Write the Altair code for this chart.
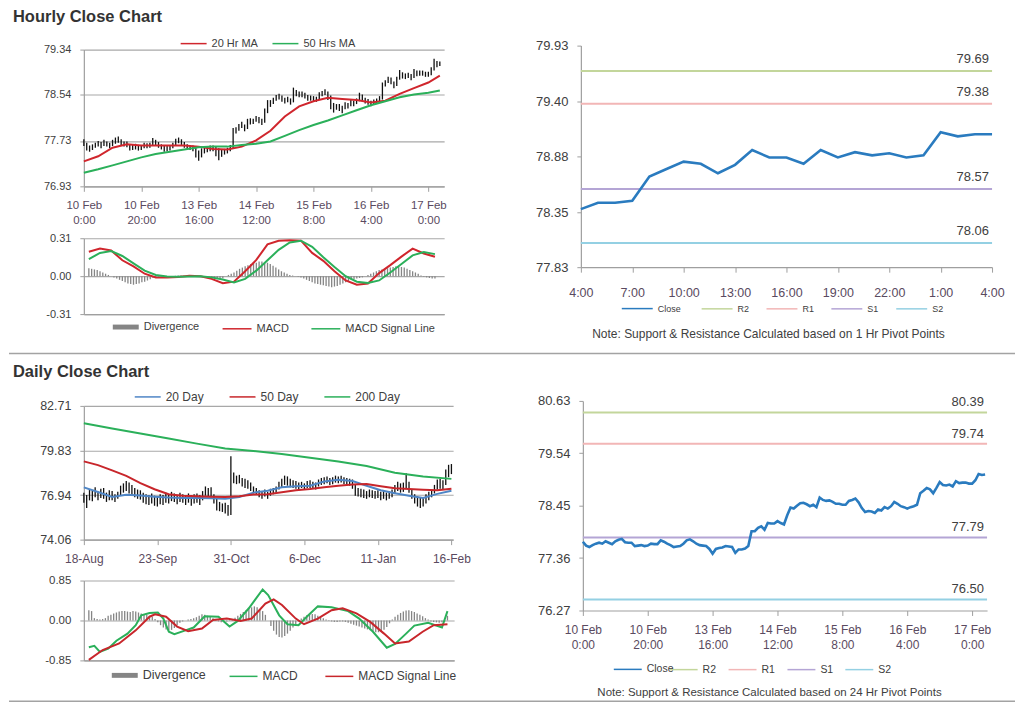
import altair as alt
import pandas as pd

FONT = "Liberation Sans"
TXT = "#404040"
XTXT = "#5a4a60"
AXC = "#9f9f9f"
GRIDC = "#a8a8a8"
RED = "#d0262d"
GREEN = "#2bb05a"
BLUE_MA = "#4f86c6"
DIV_GRAY = "#858585"
CLOSE_BLUE = "#2a7bbf"
LEVEL_COLORS = ["#c3d69b", "#f2b6b6", "#b4a5d5", "#94d0e3"]

HOURLY_TITLE = "Hourly Close Chart"
DAILY_TITLE = "Daily Close Chart"
NOTE_1H = "Note: Support & Resistance Calculated based on 1 Hr Pivot Points"
NOTE_24H = "Note: Support & Resistance Calculated based on 24 Hr Pivot Points"

# ---------------- Hourly data (10 Feb 0:00 -> 17 Feb 4:00, one bar per hour) ----------------
hour_tick_values = [0, 20, 40, 60, 80, 100, 120]
hour_tick_labels = [["10 Feb", "0:00"], ["10 Feb", "20:00"], ["13 Feb", "16:00"], ["14 Feb", "12:00"],
                    ["15 Feb", "8:00"], ["16 Feb", "4:00"], ["17 Feb", "0:00"]]

hourly_close = [77.70, 77.62, 77.59, 77.63, 77.66, 77.68, 77.66, 77.71, 77.68, 77.65,
                77.71, 77.74, 77.76, 77.69, 77.68, 77.68, 77.61, 77.62, 77.63, 77.61,
                77.62, 77.66, 77.65, 77.65, 77.73, 77.70, 77.66, 77.63, 77.59, 77.60,
                77.61, 77.66, 77.73, 77.75, 77.71, 77.66, 77.63, 77.62, 77.61, 77.55,
                77.45, 77.55, 77.57, 77.58, 77.61, 77.60, 77.59, 77.47, 77.54, 77.54,
                77.56, 77.61, 77.92, 77.92, 77.99, 78.02, 77.95, 78.09, 78.08, 78.08,
                78.13, 78.09, 78.06, 78.25, 78.41, 78.39, 78.45, 78.50, 78.51, 78.48,
                78.44, 78.47, 78.42, 78.62, 78.57, 78.55, 78.56, 78.53, 78.49, 78.49,
                78.47, 78.47, 78.55, 78.57, 78.60, 78.52, 78.40, 78.32, 78.34, 78.33,
                78.30, 78.37, 78.35, 78.42, 78.39, 78.44, 78.53, 78.49, 78.44, 78.42,
                78.39, 78.42, 78.44, 78.47, 78.71, 78.76, 78.82, 78.79, 78.71, 78.82,
                78.94, 78.88, 78.87, 78.89, 78.85, 78.96, 78.92, 78.93, 78.93, 78.91,
                78.91, 78.98, 79.11, 79.09, 79.10]
hourly_high = [77.76, 77.70, 77.65, 77.67, 77.70, 77.73, 77.71, 77.75, 77.72, 77.70,
               77.75, 77.79, 77.81, 77.76, 77.72, 77.72, 77.67, 77.66, 77.68, 77.66,
               77.66, 77.70, 77.69, 77.70, 77.78, 77.75, 77.71, 77.67, 77.64, 77.64,
               77.65, 77.70, 77.77, 77.79, 77.76, 77.71, 77.67, 77.66, 77.65, 77.62,
               77.56, 77.60, 77.62, 77.63, 77.65, 77.65, 77.63, 77.60, 77.58, 77.59,
               77.61, 77.66, 77.96, 77.97, 78.03, 78.07, 78.02, 78.12, 78.13, 78.12,
               78.17, 78.15, 78.12, 78.30, 78.45, 78.45, 78.49, 78.54, 78.56, 78.53,
               78.49, 78.51, 78.48, 78.67, 78.63, 78.60, 78.60, 78.58, 78.54, 78.53,
               78.52, 78.51, 78.59, 78.61, 78.64, 78.60, 78.53, 78.40, 78.38, 78.38,
               78.35, 78.41, 78.40, 78.46, 78.44, 78.48, 78.58, 78.55, 78.49, 78.47,
               78.44, 78.46, 78.48, 78.52, 78.76, 78.80, 78.86, 78.85, 78.78, 78.86,
               78.98, 78.94, 78.92, 78.93, 78.91, 79.00, 78.97, 78.97, 78.97, 78.95,
               78.95, 79.03, 79.18, 79.14, 79.13]
hourly_low = [77.64, 77.56, 77.54, 77.57, 77.61, 77.63, 77.60, 77.64, 77.63, 77.60,
              77.64, 77.68, 77.70, 77.64, 77.63, 77.62, 77.56, 77.57, 77.58, 77.56,
              77.57, 77.60, 77.60, 77.61, 77.64, 77.65, 77.61, 77.58, 77.54, 77.55,
              77.56, 77.60, 77.65, 77.69, 77.66, 77.61, 77.58, 77.57, 77.55, 77.44,
              77.38, 77.44, 77.51, 77.53, 77.55, 77.55, 77.46, 77.39, 77.45, 77.49,
              77.51, 77.55, 77.60, 77.86, 77.91, 77.96, 77.90, 77.94, 78.02, 78.03,
              78.07, 78.04, 78.01, 78.05, 78.22, 78.33, 78.38, 78.44, 78.46, 78.42,
              78.39, 78.41, 78.37, 78.41, 78.52, 78.50, 78.50, 78.48, 78.44, 78.44,
              78.42, 78.42, 78.46, 78.52, 78.54, 78.45, 78.29, 78.23, 78.28, 78.26,
              78.22, 78.29, 78.30, 78.34, 78.34, 78.38, 78.43, 78.44, 78.39, 78.37,
              78.34, 78.37, 78.39, 78.41, 78.46, 78.69, 78.75, 78.73, 78.66, 78.70,
              78.81, 78.83, 78.82, 78.84, 78.80, 78.84, 78.87, 78.88, 78.88, 78.86,
              78.86, 78.89, 78.97, 79.03, 79.05]

ma_hours = [0, 5, 10, 15, 20, 25, 30, 35, 40, 45, 50, 55, 60, 65, 70, 75, 80, 85, 90, 95,
            100, 105, 110, 115, 120, 124]
ma20_hourly = [77.37, 77.46, 77.61, 77.67, 77.65, 77.65, 77.65, 77.65, 77.63, 77.59, 77.58, 77.63,
               77.74, 77.91, 78.16, 78.34, 78.43, 78.49, 78.47, 78.45, 78.41, 78.44, 78.56, 78.66,
               78.76, 78.88]
ma50_hourly = [77.17, 77.23, 77.30, 77.37, 77.44, 77.50, 77.54, 77.58, 77.62, 77.63, 77.63, 77.66,
               77.68, 77.72, 77.82, 77.92, 78.01, 78.09, 78.18, 78.27, 78.36, 78.43, 78.50, 78.55,
               78.58, 78.62]

macd_hours = [0, 4, 8, 12, 16, 20, 24, 28, 32, 36, 40, 44, 48, 52, 56, 60, 64, 68, 72, 76, 80,
              84, 88, 92, 96, 100, 104, 108, 112, 116, 120, 124]
macd_hourly = [0.200, 0.225, 0.210, 0.130, 0.080, 0.020, -0.010, -0.012, -0.006, 0.004, 0.000,
               -0.022, -0.058, -0.045, 0.040, 0.133, 0.260, 0.290, 0.294, 0.290, 0.190, 0.125,
               0.040, -0.035, -0.070, -0.060, 0.025, 0.090, 0.160, 0.225, 0.185, 0.158]
signal_hourly = [0.140, 0.190, 0.205, 0.165, 0.105, 0.045, 0.010, -0.002, -0.005, -0.002, 0.000,
                 -0.010, -0.028, -0.052, -0.022, 0.045, 0.130, 0.215, 0.275, 0.290, 0.240, 0.155,
                 0.075, 0.000, -0.045, -0.056, -0.035, 0.030, 0.100, 0.170, 0.198, 0.180]
divergence_hourly = [0.065, 0.06, 0.055, 0.05, 0.04, 0.03, 0.02, 0.01, 0.0, -0.01,
                     -0.02, -0.03, -0.04, -0.05, -0.06, -0.065, -0.07, -0.065, -0.06, -0.05,
                     -0.045, -0.035, -0.025, -0.015, -0.01, -0.005, -0.005, 0.0, 0.0, 0.0,
                     0.0, 0.003, 0.005, 0.005, 0.003, 0.002, 0.0, 0.0, 0.0, -0.003,
                     -0.005, -0.01, -0.015, -0.02, -0.022, -0.025, -0.025, -0.022, -0.018, 0.0,
                     0.01, 0.02, 0.03, 0.045, 0.06, 0.07, 0.08, 0.09, 0.1, 0.105,
                     0.11, 0.12, 0.12, 0.115, 0.11, 0.1, 0.085, 0.07, 0.055, 0.04,
                     0.03, 0.02, 0.01, 0.005, 0.0, -0.005, -0.01, -0.02, -0.03, -0.04,
                     -0.05, -0.06, -0.065, -0.07, -0.075, -0.08, -0.085, -0.09, -0.085, -0.08,
                     -0.07, -0.06, -0.05, -0.04, -0.03, -0.025, -0.02, -0.015, -0.01, 0.0,
                     0.01, 0.02, 0.03, 0.04, 0.05, 0.055, 0.06, 0.065, 0.07, 0.075,
                     0.08, 0.08, 0.075, 0.07, 0.06, 0.05, 0.04, 0.03, 0.02, 0.005,
                     -0.005, -0.01, -0.015, -0.02, -0.02]

# ---------------- 1 Hr pivot chart (last 24 hours) ----------------
pivot1_ticks = [0, 3, 6, 9, 12, 15, 18, 21, 24]
pivot1_tick_labels = ["4:00", "7:00", "10:00", "13:00", "16:00", "19:00", "22:00", "1:00", "4:00"]
pivot1_close = [78.38, 78.44, 78.44, 78.46, 78.69, 78.76, 78.83, 78.81, 78.72, 78.80, 78.94, 78.87,
                78.87, 78.81, 78.94, 78.87, 78.92, 78.89, 78.91, 78.87, 78.89, 79.11, 79.07, 79.09,
                79.09]
pivot_names = ["R2", "R1", "S1", "S2"]
pivot1_levels = [79.69, 79.38, 78.57, 78.06]

# ---------------- 24 Hr pivot chart levels ----------------
pivot24_levels = [80.39, 79.74, 77.79, 76.50]

# ---------------- Daily data (18-Aug -> 16-Feb, one bar per trading day) ----------------
day_tick_values = [0, 26, 52, 78, 104, 130]
day_tick_labels = ["18-Aug", "23-Sep", "31-Oct", "6-Dec", "11-Jan", "16-Feb"]
daily_high = [77.10, 76.95, 77.30, 77.20, 77.45, 77.15, 77.35, 77.40, 77.10, 77.25,
              77.20, 77.00, 77.15, 77.55, 77.70, 77.85, 77.75, 77.60, 77.40, 77.30,
              77.25, 77.10, 77.00, 76.95, 77.05, 76.90, 76.85, 77.00, 76.95, 77.10,
              77.00, 77.15, 77.05, 76.95, 77.10, 77.00, 76.90, 77.05, 76.95, 77.00,
              77.05, 76.95, 77.20, 77.50, 77.40, 77.45, 77.00, 76.70, 76.50, 76.40,
              76.45, 76.30, 79.45, 78.40, 78.20, 78.25, 78.05, 78.00, 77.90, 77.75,
              77.50, 77.40, 77.25, 77.20, 77.30, 77.15, 77.35, 77.40, 77.50, 77.80,
              78.00, 78.20, 78.15, 78.00, 77.90, 77.85, 77.75, 77.80, 77.70, 77.85,
              77.90, 77.80, 77.75, 77.95, 78.05, 78.10, 78.15, 78.05, 78.10, 78.20,
              78.15, 78.20, 78.10, 78.05, 78.00, 77.95, 77.60, 77.40, 77.35, 77.30,
              77.20, 77.30, 77.25, 77.20, 77.25, 77.15, 77.20, 77.10, 77.20, 77.30,
              77.60, 77.80, 77.70, 77.75, 78.35, 77.80, 77.30, 77.00, 76.85, 76.75,
              76.80, 77.00, 77.15, 77.30, 77.60, 77.95, 78.00, 77.90, 78.60, 78.90, 78.95]
daily_low = [76.45, 76.10, 76.60, 76.55, 76.80, 76.60, 76.75, 76.70, 76.50, 76.60,
             76.60, 76.50, 76.70, 76.95, 77.10, 77.20, 77.05, 76.90, 76.80, 76.70,
             76.65, 76.45, 76.35, 76.30, 76.40, 76.25, 76.20, 76.35, 76.30, 76.45,
             76.40, 76.55, 76.50, 76.35, 76.50, 76.45, 76.30, 76.45, 76.25, 76.40,
             76.45, 76.30, 76.60, 76.90, 76.85, 76.80, 76.40, 75.95, 75.90, 75.85,
             75.75, 75.60, 75.65, 77.70, 77.65, 77.70, 77.50, 77.40, 77.35, 77.20,
             77.05, 76.95, 76.80, 76.70, 76.85, 76.70, 76.90, 77.00, 77.10, 77.30,
             77.45, 77.60, 77.55, 77.45, 77.40, 77.35, 77.30, 77.40, 77.30, 77.40,
             77.40, 77.35, 77.30, 77.50, 77.60, 77.65, 77.70, 77.60, 77.65, 77.75,
             77.70, 77.75, 77.65, 77.60, 77.55, 77.35, 76.90, 76.85, 76.80, 76.75,
             76.70, 76.80, 76.75, 76.70, 76.75, 76.60, 76.70, 76.60, 76.70, 76.80,
             77.05, 77.20, 77.10, 77.15, 77.40, 77.10, 76.70, 76.40, 76.20, 76.10,
             76.20, 76.40, 76.60, 76.80, 77.05, 77.30, 77.35, 77.30, 77.60, 78.10, 78.30]

ma_days = [0, 5, 10, 15, 20, 25, 30, 35, 40, 45, 50, 55, 60, 65, 70, 75, 80, 85, 90, 95, 100,
           105, 110, 115, 120, 125, 130]
ma20_daily = [77.44, 77.14, 76.82, 76.96, 76.92, 76.84, 76.78, 76.76, 76.76, 76.74, 76.70, 76.82,
              77.10, 77.22, 77.45, 77.51, 77.55, 77.82, 77.93, 77.85, 77.55, 77.26, 77.06, 76.90,
              76.76, 77.02, 77.22]
ma50_daily = [79.12, 78.88, 78.54, 78.18, 77.72, 77.32, 77.00, 76.90, 76.86, 76.84, 76.82, 76.86,
              76.98, 77.00, 77.12, 77.25, 77.33, 77.45, 77.55, 77.62, 77.66, 77.52, 77.38, 77.33,
              77.29, 77.25, 77.35]
ma200_days = [0, 10, 20, 30, 40, 50, 60, 70, 80, 90, 100, 110, 120, 130]
ma200_daily = [81.59, 81.25, 80.93, 80.60, 80.27, 79.95, 79.80, 79.60, 79.36, 79.12, 78.82, 78.38,
               78.14, 77.99]

macd_days = [0, 2, 4, 7, 10, 14, 17, 19, 22, 25, 27, 29, 31, 35, 38, 42, 47, 51, 54, 58, 63, 65,
             69, 72, 76, 79, 83, 88, 94, 98, 103, 108, 111, 115, 118, 123, 128, 130]
macd_daily = [-0.57, -0.54, -0.67, -0.60, -0.43, -0.28, -0.10, 0.11, 0.16, 0.17, 0.04, -0.24,
              -0.29, -0.21, -0.15, 0.09, 0.08, -0.13, -0.01, 0.26, 0.66, 0.54, 0.11, -0.08, -0.10,
              0.08, 0.30, 0.28, 0.20, 0.04, -0.24, -0.58, -0.50, -0.28, -0.11, -0.05, -0.15, 0.20]
signal_days = [0, 5, 11, 17, 22, 24, 28, 32, 36, 41, 45, 50, 55, 59, 64, 67, 70, 75, 78, 83, 88,
               92, 97, 102, 107, 111, 116, 121, 125, 130]
signal_daily = [-0.84, -0.63, -0.49, -0.21, 0.08, 0.13, 0.08, -0.13, -0.23, -0.17, 0.01, 0.04,
                -0.01, 0.04, 0.36, 0.45, 0.33, 0.04, -0.08, 0.04, 0.22, 0.26, 0.15, -0.03, -0.28,
                -0.49, -0.45, -0.24, -0.10, -0.08]
divergence_daily = [0.22, 0.2, 0.05, 0.03, 0.02, 0.03, 0.05, 0.10, 0.12, 0.15,
                    0.17, 0.19, 0.2, 0.2, 0.19, 0.18, 0.2, 0.19, 0.17, 0.15,
                    0.14, 0.12, 0.10, 0.08, 0.03, -0.04, -0.1, -0.15, -0.19, -0.21,
                    -0.2, -0.16, -0.1, -0.05, -0.02, 0.0, 0.02, 0.03, 0.05, 0.07,
                    0.1, 0.13, 0.12, 0.1, 0.08, 0.05, 0.02, -0.02, -0.04, -0.03,
                    -0.02, -0.01, 0.02, 0.06, 0.1, 0.14, 0.18, 0.22, 0.26, 0.28,
                    0.3, 0.28, 0.24, 0.2, 0.12, 0.0, -0.12, -0.22, -0.3, -0.35,
                    -0.36, -0.33, -0.28, -0.22, -0.15, -0.08, -0.02, 0.04, 0.08, 0.11,
                    0.13, 0.14, 0.13, 0.1, 0.08, 0.05, 0.02, -0.01, -0.02, -0.03,
                    -0.03, -0.02, -0.02, -0.03, -0.05, -0.07, -0.09, -0.11, -0.13, -0.15,
                    -0.17, -0.19, -0.21, -0.23, -0.25, -0.25, -0.24, -0.2, -0.14, -0.06,
                    0.02, 0.08, 0.12, 0.16, 0.19, 0.21, 0.22, 0.2, 0.18, 0.15,
                    0.12, 0.09, 0.05, 0.02, -0.02, -0.03, -0.04, -0.05, -0.04, -0.02, 0.1]

# ---------------- helpers ----------------
NUM_EXPR = "replace(format(datum.value, '.2f'), '\u2212', '-')"
BAR_SYMBOL = "M-1,-0.19L1,-0.19L1,0.19L-1,0.19Z"


def label_expr(values, labels):
    expr = "''"
    for v, lab in reversed(list(zip(values, labels))):
        if isinstance(lab, (list, tuple)):
            s = "[" + ", ".join("'%s'" % t for t in lab) + "]"
        else:
            s = "'%s'" % lab
        expr = "datum.value == %s ? %s : (%s)" % (v, s, expr)
    return expr


def y_axis(values, size, grid=True, pad=9):
    return alt.Axis(values=values, tickCount=20, labelExpr=NUM_EXPR, grid=grid, gridColor=GRIDC,
                    gridWidth=1.1, domainColor=AXC, domainWidth=1.2, tickColor=AXC, tickSize=4,
                    labelFontSize=size, labelColor=TXT, labelFont=FONT, labelPadding=pad,
                    labelFlush=False, labelOverlap=False, title=None)


def x_axis(values, labels, size, pad):
    return alt.Axis(values=values, tickCount=20, labelExpr=label_expr(values, labels), grid=False,
                    domainColor=AXC, domainWidth=1.2, tickColor=AXC, tickSize=5, labelFontSize=size,
                    labelColor=XTXT, labelFont=FONT, labelPadding=pad, labelLineHeight=15,
                    labelFlush=False, labelOverlap=False, title=None)


BLANK_X = alt.Axis(labels=False, ticks=False, grid=False, domainColor=AXC, domainWidth=1.2, title=None)


def line_legend(x, y, size, sym_len, col_pad):
    return alt.Legend(orient="none", legendX=x, legendY=y, direction="horizontal", title=None,
                      symbolType="stroke", symbolSize=sym_len * sym_len, labelFontSize=size,
                      labelFont=FONT, labelColor=TXT, columnPadding=col_pad, labelOffset=4)


def bar_legend(x, y, size, sym_len):
    return alt.Legend(orient="none", legendX=x, legendY=y, direction="horizontal", title=None,
                      symbolType=BAR_SYMBOL, symbolSize=sym_len * sym_len, symbolFillColor="#595959",
                      labelFontSize=size, labelFont=FONT, labelColor=TXT, labelOffset=4)


def spacer(w=10, h=1):
    return alt.Chart(pd.DataFrame({"z": [0]})).mark_point(size=0, strokeWidth=0, opacity=0).encode(
        x=alt.value(0), y=alt.value(0)).properties(width=w, height=h)


def header(title, h, text_y, rule_y=None):
    df = pd.DataFrame({"t": [title]})
    layers = []
    if rule_y is not None:
        layers.append(alt.Chart(df).mark_rule(color="#a3a3a3", strokeWidth=1.5).encode(
            x=alt.value(-75), x2=alt.value(933), y=alt.value(rule_y)))
    if title:
        layers.append(alt.Chart(df).mark_text(align="left", baseline="middle", font=FONT, fontSize=16.5,
                                               fontWeight="bold", color="#333333").encode(
            x=alt.value(-71), y=alt.value(text_y), text="t:N"))
    return alt.layer(*layers).properties(width=900, height=h)


def price_panel(idx, hi, lo, ma_x, ma_series, names, colors, xdom, xticks, xlabels, xsize, xpad,
                ydom, yticks, ysize, W, H, leg):
    xs = alt.Scale(domain=xdom, nice=False, zero=False)
    ys = alt.Scale(domain=ydom, nice=False, zero=False)
    bars_df = pd.DataFrame({"x": idx, "hi": hi, "lo": lo})
    bars = alt.Chart(bars_df).mark_rule(color="#111111", strokeWidth=1.3).encode(
        x=alt.X("x:Q", scale=xs, axis=x_axis(xticks, xlabels, xsize, xpad)),
        y=alt.Y("lo:Q", scale=ys, axis=y_axis(yticks, ysize)),
        y2="hi:Q")
    xx, vv, ss = [], [], []
    for mx, series, name in zip(ma_x, ma_series, names):
        xx += mx
        vv += series
        ss += [name] * len(series)
    ma_df = pd.DataFrame({"x": xx, "v": vv, "s": ss})
    ma = alt.Chart(ma_df).mark_line(strokeWidth=2).encode(
        x=alt.X("x:Q", scale=xs), y=alt.Y("v:Q", scale=ys),
        color=alt.Color("s:N", scale=alt.Scale(domain=names, range=colors), legend=leg))
    return alt.layer(bars, ma).properties(width=W, height=H)


def macd_panel(div_idx, div_vals, macd_x, macd_v, sig_x, sig_v, names, colors, xdom, ylim, ysize,
               W, H, bleg, lleg):
    xs = alt.Scale(domain=xdom, nice=False, zero=False)
    ys = alt.Scale(domain=[-ylim, ylim], nice=False, zero=False)
    div_df = pd.DataFrame({"x": div_idx, "v": div_vals, "d": "Divergence"})
    div = alt.Chart(div_df).mark_bar(width=1.3).encode(
        x=alt.X("x:Q", scale=xs, axis=BLANK_X),
        y=alt.Y("v:Q", scale=ys, axis=y_axis([-ylim, 0.0, ylim], ysize)),
        y2=alt.datum(0),
        fill=alt.Fill("d:N", scale=alt.Scale(domain=["Divergence"], range=[DIV_GRAY]), legend=bleg))
    ln_df = pd.DataFrame({"x": macd_x + sig_x, "v": macd_v + sig_v,
                          "s": [names[0]] * len(macd_v) + [names[1]] * len(sig_v)})
    lines = alt.Chart(ln_df).mark_line(strokeWidth=2).encode(
        x=alt.X("x:Q", scale=xs), y=alt.Y("v:Q", scale=ys),
        color=alt.Color("s:N", scale=alt.Scale(domain=names, range=colors), legend=lleg))
    return alt.layer(div, lines).properties(width=W, height=H)


def pivot_panel(idx, close, xdom, xticks, xlabels, xsize, xpad, ydom, yticks, levels, W, H,
                cleg, lleg, note, note_x, note_y, note_size, lab_dy):
    xs = alt.Scale(domain=xdom, nice=False, zero=False)
    ys = alt.Scale(domain=ydom, nice=False, zero=False)
    lv_df = pd.DataFrame({"n": pivot_names, "v": levels})
    rules = alt.Chart(lv_df).mark_rule(strokeWidth=2).encode(
        y=alt.Y("v:Q", scale=ys, axis=y_axis(yticks, 13, grid=False)),
        stroke=alt.Stroke("n:N", scale=alt.Scale(domain=pivot_names, range=LEVEL_COLORS), legend=lleg))
    cl_df = pd.DataFrame({"x": idx, "v": close, "s": "Close"})
    line = alt.Chart(cl_df).mark_line(strokeWidth=2.6).encode(
        x=alt.X("x:Q", scale=xs, axis=x_axis(xticks, xlabels, xsize, xpad)),
        y=alt.Y("v:Q", scale=ys),
        color=alt.Color("s:N", scale=alt.Scale(domain=["Close"], range=[CLOSE_BLUE]), legend=cleg))
    labels = alt.Chart(lv_df).mark_text(align="right", baseline="middle", dy=lab_dy, font=FONT,
                                         fontSize=13, color=TXT).encode(
        y=alt.Y("v:Q", scale=ys), x=alt.value(W - 3), text=alt.Text("v:Q", format=".2f"))
    nt = alt.Chart(pd.DataFrame({"t": [note]})).mark_text(align="center", baseline="middle", font=FONT,
                                                          fontSize=note_size, color=TXT).encode(
        x=alt.value(note_x), y=alt.value(note_y), text="t:N")
    return alt.layer(rules, line, labels, nt).properties(width=W, height=H)


def indep(c):
    return c.resolve_scale(color="independent", fill="independent", stroke="independent")


# ---------------- hourly section ----------------
hours = list(range(len(hourly_close)))
price_h = price_panel(hours, hourly_high, hourly_low, [ma_hours, ma_hours], [ma20_hourly, ma50_hourly],
                      ["20 Hr MA", "50 Hrs MA"], [RED, GREEN], [0, 125.5], hour_tick_values,
                      hour_tick_labels, 11.5, 8, [76.93, 79.34], [76.93, 77.73, 78.54, 79.34], 11,
                      361, 137, line_legend(96, -20, 11, 26, 11))
macd_h = macd_panel(hours, divergence_hourly, macd_hours, macd_hourly, macd_hours, signal_hourly,
                    ["MACD", "MACD Signal Line"], [RED, GREEN], [0, 125.5], 0.31, 11, 361, 76,
                    bar_legend(28, 75, 11, 26), line_legend(138, 75, 11, 29, 19))
pivot_h = pivot_panel(list(range(len(pivot1_close))), pivot1_close, [0, 24], pivot1_ticks,
                      pivot1_tick_labels, 12.5, 14, [77.83, 79.93], [77.83, 78.35, 78.88, 79.40, 79.93],
                      pivot1_levels, 412, 222,
                      line_legend(40, 247, 9, 31, 10), line_legend(120, 247, 9, 31, 14),
                      NOTE_1H, 188, 289, 12, -12)

left_h = indep(alt.vconcat(price_h, macd_h, spacing=6))
row_h = indep(alt.hconcat(indep(alt.vconcat(spacer(), left_h, spacing=3)),
                          indep(alt.vconcat(spacer(), pivot_h, spacing=13)), spacing=88))

# ---------------- daily section ----------------
days = list(range(len(daily_high)))
price_d = price_panel(days, daily_high, daily_low, [ma_days, ma_days, ma200_days],
                      [ma20_daily, ma50_daily, ma200_daily], ["20 Day", "50 Day", "200 Day"],
                      [BLUE_MA, "#c8262b", GREEN], [0, 130.6], day_tick_values, day_tick_labels, 12, 9,
                      [74.06, 82.71], [74.06, 76.94, 79.83, 82.71], 12.5, 370, 134,
                      line_legend(50, -23, 12, 26, 22))
macd_d = macd_panel(days, divergence_daily, macd_days, macd_daily, signal_days, signal_daily,
                    ["MACD", "MACD Signal Line"], [GREEN, "#c8262b"], [0, 130.6], 0.85, 11.5, 371, 80,
                    bar_legend(27, 81, 12.5, 26), line_legend(145, 81, 12, 28, 24))
pivot_d = pivot_panel(hours, hourly_close, [0, 124.6], hour_tick_values, hour_tick_labels, 12, 9,
                      [76.27, 80.63], [76.27, 77.36, 78.45, 79.54, 80.63], pivot24_levels, 405, 210,
                      line_legend(30, 254, 10.5, 28, 10), line_legend(86, 254, 10.5, 28, 9),
                      NOTE_24H, 187, 293, 11.5, -10)

left_d = indep(alt.vconcat(price_d, macd_d, spacing=10))
row_d = indep(alt.hconcat(indep(alt.vconcat(spacer(), left_d, spacing=1)),
                          indep(alt.vconcat(spacer(), pivot_d, spacing=13)), spacing=66))

chart = indep(alt.vconcat(
    header(HOURLY_TITLE, 16, 8),
    row_h,
    header(DAILY_TITLE, 41, 32.5, 13.5),
    row_d,
    header("", 3, 2, 2),
    spacing=0,
)).properties(padding=0, background="white").configure(
    font=FONT, view=alt.ViewConfig(stroke="transparent", strokeWidth=0))

chart.save("out.html", embed_options={"renderer": "svg", "actions": False})
